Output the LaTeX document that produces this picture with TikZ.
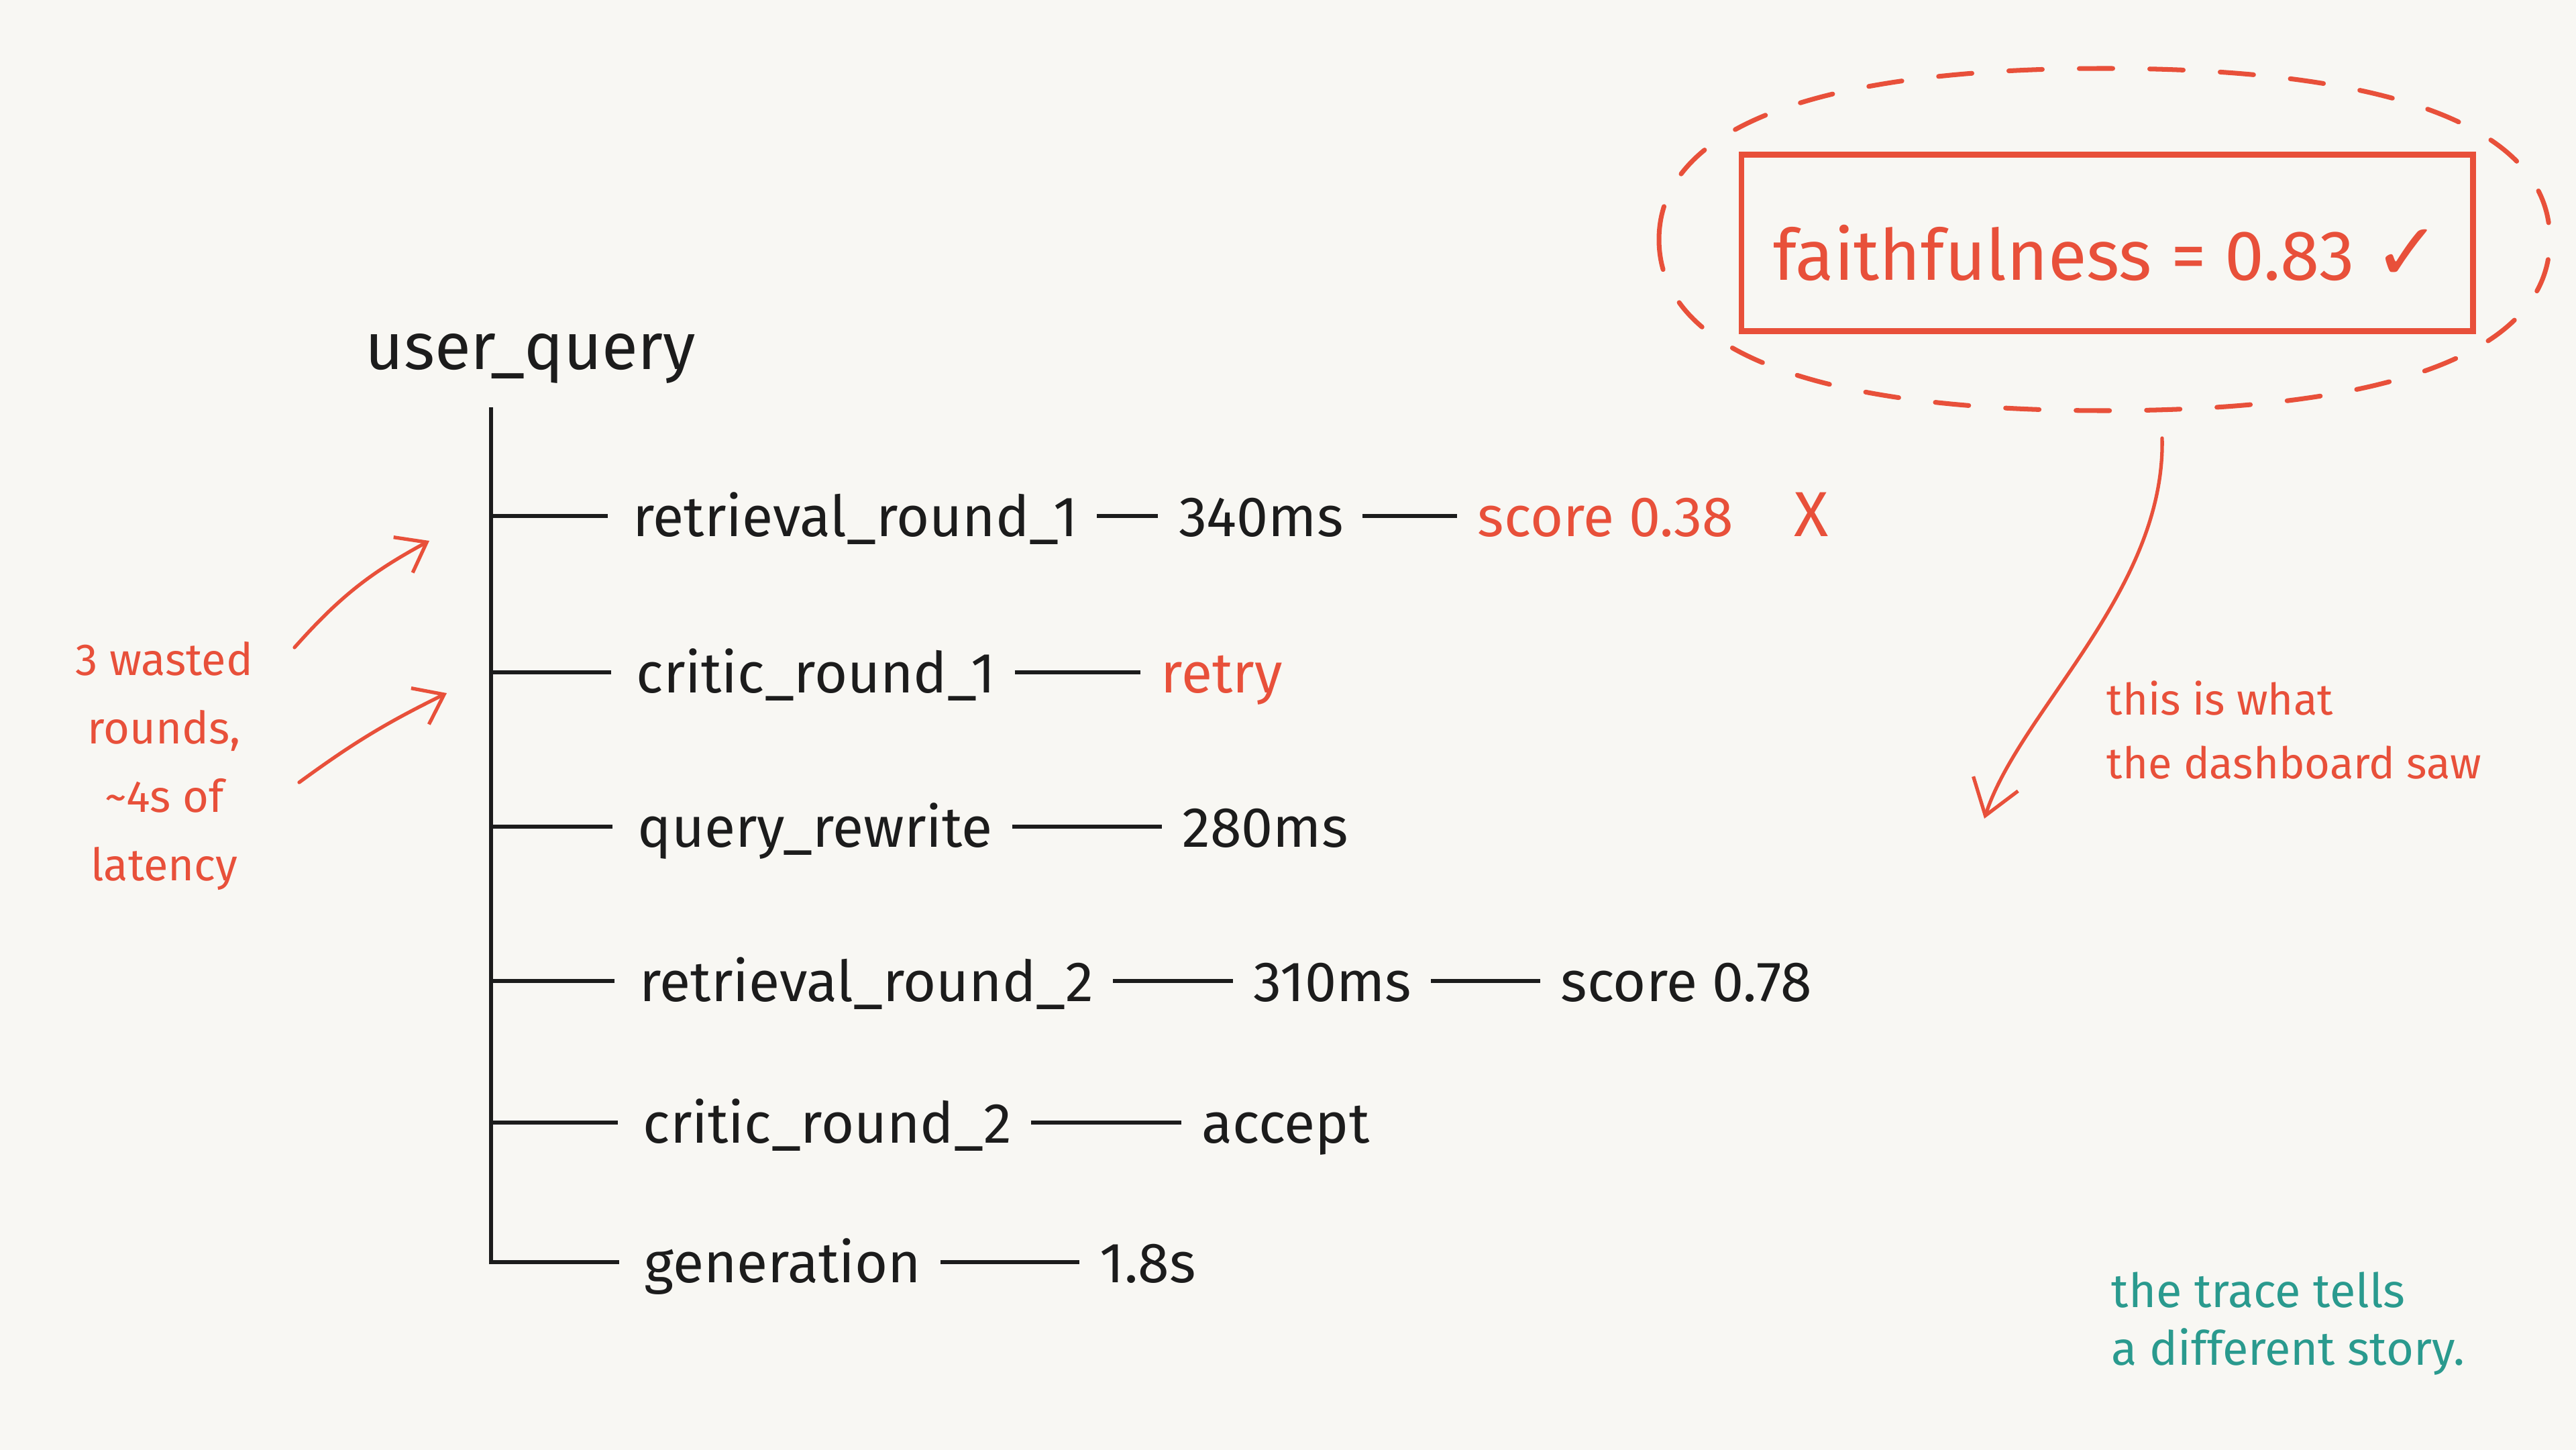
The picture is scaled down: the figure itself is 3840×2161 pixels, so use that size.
\documentclass[tikz,border=0pt]{standalone}
\usepackage{fontspec}
\setmainfont{Fira Sans}
\newfontfamily\symbolfont{DejaVu Sans}
\usepackage{tikz}
\usetikzlibrary{arrows.meta,positioning,calc}
\definecolor{Ink}{HTML}{1C1C1C}
\definecolor{Pen}{HTML}{E8503A}
\definecolor{Teal}{HTML}{2A9A8E}
\definecolor{Paper}{HTML}{F8F7F3}

\begin{document}
\begin{tikzpicture}[
  x=0.01cm, y=-0.01cm,
  every node/.style={inner sep=0pt},
  span/.style={font=\fontsize{24}{28}\selectfont, text=Ink, text height=7.5mm, text depth=1.5mm, anchor=west},
  hot/.style={span, text=Pen},
  link/.style={line width=1.8pt, color=Ink, shorten <=2.8mm, shorten >=3mm},
  branch/.style={line width=1.6pt, color=Ink, shorten >=3.7mm},
  note/.style={font=\fontsize{19}{29}\selectfont, text=Pen, align=center},
  pen/.style={-{Straight Barb[length=4mm,width=6mm]}, line width=1.5pt, color=Pen, line cap=round}
]
\fill[Paper] (0,0) rectangle (3840,2161);
\useasboundingbox (0,0) rectangle (3840,2161);

% trace tree
\node[font=\fontsize{28}{32}\selectfont, text=Ink, anchor=base west] (root) at (544,550) {user\_query};
\coordinate (trunk) at (732,607);

\node[span] (ret1) at (943,769) {retrieval\_round\_1};
\node[span, right=1.49cm of ret1] (ret1ms) {340ms};
\node[hot, right=1.99cm of ret1ms] (ret1sc) {score 0.38\hspace{9mm}{\fontsize{27}{28}\selectfont X}};

\node[span] (crit1) at (948,1002) {critic\_round\_1};
\node[hot, right=2.45cm of crit1] (crit1v) {retry};

\node[span] (rewrite) at (950,1232) {query\_rewrite};
\node[span, right=2.81cm of rewrite] (rewritems) {280ms};

\node[span] (ret2) at (953,1462) {retrieval\_round\_2};
\node[span, right=2.37cm of ret2] (ret2ms) {310ms};
\node[span, right=2.21cm of ret2ms] (ret2sc) {score 0.78};

\node[span] (crit2) at (958,1673) {critic\_round\_2};
\node[span, right=2.82cm of crit2] (crit2v) {accept};

\node[span] (gen) at (960,1881) {generation};
\node[span, right=2.65cm of gen] (genms) {1.8s};

\foreach \n in {ret1,crit1,rewrite,ret2,crit2}
  \draw[branch] (trunk |- \n) -- (\n);
\draw[branch] (trunk) |- (gen);

\draw[link] (ret1) -- (ret1ms);
\draw[link] (ret1ms) -- (ret1sc);
\draw[link] (crit1) -- (crit1v);
\draw[link] (rewrite) -- (rewritems);
\draw[link] (ret2) -- (ret2ms);
\draw[link] (ret2ms) -- (ret2sc);
\draw[link] (crit2) -- (crit2v);
\draw[link] (gen) -- (genms);

% wasted rounds
\node[note] (waste) at (245,1142) {3 wasted\\rounds,\\\textasciitilde 4s of\\latency};
\coordinate (from1) at (439,965);
\coordinate (hint1) at (640,806);
\coordinate (from2) at (446,1166);
\coordinate (hint2) at (666,1033);
\draw[pen] (from1) to[bend left=10] (hint1);
\draw[pen] (from2) to[bend left=5] (hint2);

% dashboard score
\node[draw=Pen, line width=2.4pt, minimum width=10.9cm, minimum height=2.63cm,
  text height=11mm, text depth=0pt, font=\fontsize{30}{36}\selectfont, text=Pen]
  (faith) at (3141,362) {faithfulness = 0.83 {\symbolfont\fontsize{34}{36}\selectfont ✓}};
\draw[Pen, line width=2pt, dash pattern=on 5mm off 5.5mm, line cap=round]
  (2473,357) .. controls (2473,191) and (2705,102) .. (3137,102)
  .. controls (3569,102) and (3801,191) .. (3801,357)
  .. controls (3801,523) and (3569,612) .. (3137,612)
  .. controls (2705,612) and (2473,523) .. (2473,357);

\coordinate (saw) at (3223,653);
\coordinate (sawtip) at (2958,1220);
\draw[pen, -{Straight Barb[length=5mm,width=7mm]}] (saw) .. controls (3228,880) and (3010,1060) .. (sawtip);
\node[font=\fontsize{18.5}{27}\selectfont, text=Pen, align=left, anchor=west] (sawnote) at (3140,1088) {this is what\\the dashboard saw};

\node[font=\fontsize{20}{24.5}\selectfont, text=Teal, align=left, anchor=west] (story) at (3147,1973) {the trace tells\\a different story.};
\end{tikzpicture}
\end{document}
